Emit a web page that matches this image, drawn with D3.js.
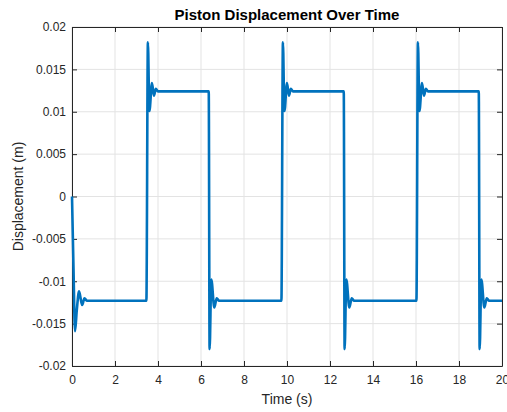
<!DOCTYPE html>
<html>
<head>
<meta charset="utf-8">
<script src="https://cdn.jsdelivr.net/npm/d3@7"></script>
<style>
  html, body { margin: 0; padding: 0; background: #fff; }
  svg { display: block; font-family: "Liberation Sans", Arial, sans-serif; }
</style>
</head>
<body>
<svg id="chart" width="507" height="412"></svg>
<script>
// Simulated piston displacement (m) against time (s)
const timeS = [
  0, 0.07, 0.14, 0.22, 0.33, 0.47, 0.58, 0.70, 3.46,
  3.53, 3.60, 3.72, 3.81, 3.90, 4.00, 6.36,
  6.40, 6.48, 6.62, 6.73, 6.84, 9.74,
  9.81, 9.88, 10.00, 10.09, 10.18, 10.28, 12.64,
  12.68, 12.76, 12.90, 13.01, 13.12, 16.02,
  16.09, 16.16, 16.28, 16.37, 16.46, 16.56, 18.92,
  18.96, 19.04, 19.18, 19.29, 19.40, 20.00
];
const displacementM = [
  0, -0.0085, -0.0159, -0.0135, -0.0112, -0.0128, -0.0120, -0.0123, -0.0123,
  0.0182, 0.0101, 0.0134, 0.0119, 0.0127, 0.0124, 0.0124,
  -0.0180, -0.0098, -0.0131, -0.0120, -0.0123, -0.0123,
  0.0182, 0.0101, 0.0134, 0.0119, 0.0127, 0.0124, 0.0124,
  -0.0180, -0.0098, -0.0131, -0.0120, -0.0123, -0.0123,
  0.0182, 0.0101, 0.0134, 0.0119, 0.0127, 0.0124, 0.0124,
  -0.0180, -0.0098, -0.0131, -0.0120, -0.0123, -0.0123
];
const xTicks = [0, 2, 4, 6, 8, 10, 12, 14, 16, 18, 20];
const xTickLabels = ["0", "2", "4", "6", "8", "10", "12", "14", "16", "18", "20"];
const yTicks = [-0.02, -0.015, -0.01, -0.005, 0, 0.005, 0.01, 0.015, 0.02];
const yTickLabels = ["-0.02", "-0.015", "-0.01", "-0.005", "0", "0.005", "0.01", "0.015", "0.02"];

const titleText = "Piston Displacement Over Time";
const xLabelText = "Time (s)";
const yLabelText = "Displacement (m)";

const svg = d3.select("#chart");
const margin = { left: 72, right: 5, top: 27, bottom: 46 };
const W = 507, H = 412;
const x = d3.scaleLinear().domain([0, 20]).range([margin.left, W - margin.right]);
const y = d3.scaleLinear().domain([-0.02, 0.02]).range([H - margin.bottom, margin.top]);

const axisColor = "#262626";
const gridColor = "#e3e3e3";

// grid
const grid = svg.append("g");
grid.selectAll(".gx").data(xTicks).join("line")
  .attr("x1", d => x(d)).attr("x2", d => x(d))
  .attr("y1", y.range()[0]).attr("y2", y.range()[1])
  .attr("stroke", gridColor).attr("stroke-width", 1);
grid.selectAll(".gy").data(yTicks).join("line")
  .attr("y1", d => y(d)).attr("y2", d => y(d))
  .attr("x1", x.range()[0]).attr("x2", x.range()[1])
  .attr("stroke", gridColor).attr("stroke-width", 1);

// axes with inward ticks on all four sides
const tickLen = 5;
function styleAxis(g) {
  g.select(".domain").attr("stroke", axisColor);
  g.selectAll(".tick line").attr("stroke", axisColor);
  g.selectAll(".tick text").attr("fill", axisColor).style("font-size", "12px");
}
svg.append("g")
  .attr("transform", `translate(0,${y.range()[0]})`)
  .call(d3.axisBottom(x).tickValues(xTicks).tickSize(-tickLen).tickSizeOuter(0).tickPadding(9)
    .tickFormat((d, i) => xTickLabels[i]))
  .call(styleAxis);
svg.append("g")
  .attr("transform", `translate(0,${y.range()[1]})`)
  .call(d3.axisTop(x).tickValues(xTicks).tickSize(-tickLen).tickSizeOuter(0).tickFormat(""))
  .call(styleAxis);
svg.append("g")
  .attr("transform", `translate(${x.range()[0]},0)`)
  .call(d3.axisLeft(y).tickValues(yTicks).tickSize(-tickLen).tickSizeOuter(0).tickPadding(6)
    .tickFormat((d, i) => yTickLabels[i]))
  .call(styleAxis);
svg.append("g")
  .attr("transform", `translate(${x.range()[1]},0)`)
  .call(d3.axisRight(y).tickValues(yTicks).tickSize(-tickLen).tickSizeOuter(0).tickFormat(""))
  .call(styleAxis);
svg.selectAll(".domain").attr("fill", "none");

// data line, drawn over the axes
const pts = timeS.map((t, i) => [t, displacementM[i]]);
const line = d3.line().x(d => x(d[0])).y(d => y(d[1])).curve(d3.curveMonotoneX);
svg.append("path")
  .datum(pts)
  .attr("d", line)
  .attr("fill", "none")
  .attr("stroke", "#0072BD")
  .attr("stroke-width", 2.6)
  .attr("stroke-linejoin", "round");

// labels
const cx = (x.range()[0] + x.range()[1]) / 2;
svg.append("text")
  .attr("x", cx).attr("y", 20)
  .attr("text-anchor", "middle")
  .style("font-size", "15px").style("font-weight", "bold")
  .attr("fill", "#000")
  .text(titleText);
svg.append("text")
  .attr("x", cx).attr("y", 404)
  .attr("text-anchor", "middle")
  .style("font-size", "14px")
  .attr("fill", axisColor)
  .text(xLabelText);
svg.append("text")
  .attr("transform", `translate(23,${(y.range()[0] + y.range()[1]) / 2}) rotate(-90)`)
  .attr("text-anchor", "middle")
  .style("font-size", "14px")
  .attr("fill", axisColor)
  .text(yLabelText);
</script>
</body>
</html>
